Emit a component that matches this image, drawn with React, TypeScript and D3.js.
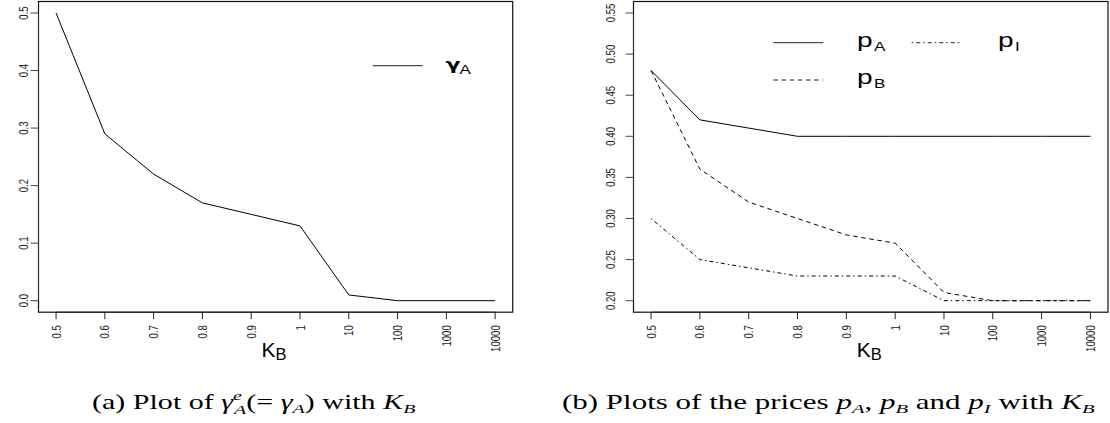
import React, { useLayoutEffect, useRef, useState } from "react";
import * as d3 from "d3";

const categories = ["0.5", "0.6", "0.7", "0.8", "0.9", "1", "10", "100", "1000", "10000"];
const gammaA = [0.5, 0.29, 0.22, 0.17, 0.15, 0.13, 0.01, 0, 0, 0];
const pA = [0.48, 0.42, 0.41, 0.4, 0.4, 0.4, 0.4, 0.4, 0.4, 0.4];
const pB = [0.48, 0.36, 0.32, 0.3, 0.28, 0.27, 0.21, 0.2, 0.2, 0.2];
const pI = [0.3, 0.25, 0.24, 0.23, 0.23, 0.23, 0.2, 0.2, 0.2, 0.2];
const leftYTicks = [0, 0.1, 0.2, 0.3, 0.4, 0.5];
const rightYTicks = [0.2, 0.25, 0.3, 0.35, 0.4, 0.45, 0.5, 0.55];

const SY = 0.74;
const SANS = "'Liberation Sans', Arial, Helvetica, sans-serif";
const SERIF = "'Liberation Serif', 'Times New Roman', serif";
const DASH = "4.5,3.7";
const DOTDASH = "1.5,3,4,3";

type Series = { values: number[]; dash?: string };

function Panel(props: {
  left: number;
  right: number;
  top: number;
  bottom: number;
  yDomain: [number, number];
  yTicks: number[];
  yFmt: (v: number) => string;
  yLabelX: number;
  series: Series[];
}) {
  const { left, right, top, bottom, yDomain, yTicks, yFmt, yLabelX, series } = props;
  const n = categories.length;
  const padX = (n - 1) * 0.04;
  const x = d3.scaleLinear().domain([-padX, n - 1 + padX]).range([left, right]);
  const padY = (yDomain[1] - yDomain[0]) * 0.04;
  const y = d3.scaleLinear().domain([yDomain[0] - padY, yDomain[1] + padY]).range([bottom, top]);
  const line = d3
    .line<number>()
    .x((_, i) => x(i))
    .y((d) => y(d));
  const tickLen = 8;
  return (
    <g>
      {series.map((s, k) => (
        <path
          key={k}
          d={line(s.values) || ""}
          fill="none"
          stroke="#000"
          strokeWidth={1}
          strokeDasharray={s.dash}
        />
      ))}
      <rect x={left} y={top} width={right - left} height={bottom - top} fill="none" stroke="#111" strokeWidth={1.2} />
      <line x1={left} x2={left} y1={y(yTicks[0])} y2={y(yTicks[yTicks.length - 1])} stroke="#333" />
      {yTicks.map((t) => (
        <g key={t}>
          <line x1={left - tickLen} x2={left} y1={y(t)} y2={y(t)} stroke="#444" strokeWidth={1} />
          <g transform={`translate(${yLabelX},${y(t)}) scale(1,${SY}) rotate(-90)`}>
            <text x={0} y={0} textAnchor="middle" fontFamily={SANS} fontSize={13} fill="#222">
              {yFmt(t)}
            </text>
          </g>
        </g>
      ))}
      <line x1={x(0)} x2={x(n - 1)} y1={bottom} y2={bottom} stroke="#222" />
      {categories.map((c, i) => (
        <g key={c}>
          <line x1={x(i)} x2={x(i)} y1={bottom} y2={bottom + 7} stroke="#222" strokeWidth={1} />
          <g transform={`translate(${x(i) + 4.6},${bottom + 13}) scale(1,${SY}) rotate(-90)`}>
            <text x={0} y={0} textAnchor="end" fontFamily={SANS} fontSize={13} fill="#222">
              {c}
            </text>
          </g>
        </g>
      ))}
      <g transform={`translate(${(left + right) / 2 - 14},356.5)`}>
        <text x={0} y={0} fontFamily={SANS} fontSize={21} fill="#000">
          K
        </text>
        <text x={14} y={3.5} fontFamily={SANS} fontSize={16.5} fill="#000">
          B
        </text>
      </g>
    </g>
  );
}

function LegendEntry(props: {
  x1: number;
  x2: number;
  ly: number;
  tx: number;
  base: string;
  sub: string;
  dash?: string;
  baseFont?: string;
  baseSize?: number;
  baseDy?: number;
  baseWeight?: number;
  subDx?: number;
}) {
  const { x1, x2, ly, tx, base, sub, dash } = props;
  const baseSize = props.baseSize ?? 28;
  const baseDy = props.baseDy ?? 4;
  const subDx = props.subDx ?? 17;
  return (
    <g>
      <line x1={x1} x2={x2} y1={ly} y2={ly} stroke="#222" strokeWidth={1} strokeDasharray={dash} />
      <g transform={`translate(${tx},${ly + baseDy}) scale(1,${SY})`}>
        <text x={0} y={0} fontFamily={props.baseFont ?? SANS} fontSize={baseSize} fontWeight={props.baseWeight ?? 400} fill="#000">
          {base}
        </text>
      </g>
      <g transform={`translate(${tx + subDx},${ly + 8.3}) scale(1,${SY})`}>
        <text x={0} y={0} fontFamily={SANS} fontSize={17} fill="#000">
          {sub}
        </text>
      </g>
    </g>
  );
}

const CAP_FONT = 30;
const CAP_SY = 0.67;

function FitText(props: { x0: number; x1: number; baseline: number; children: React.ReactNode }) {
  const ref = useRef<SVGTextElement>(null);
  const [sx, setSx] = useState(1);
  useLayoutEffect(() => {
    if (ref.current) {
      const w = ref.current.getBBox().width;
      if (w > 0) setSx((props.x1 - props.x0) / w);
    }
  }, []);
  return (
    <g transform={`translate(${props.x0},${props.baseline}) scale(${sx},${CAP_SY})`}>
      <text ref={ref} x={0} y={0} fontFamily={SERIF} fontSize={CAP_FONT} fill="#000">
        {props.children}
      </text>
    </g>
  );
}

export default function App() {
  const SUB = 20;
  const D = 6;
  return (
    <svg
      width={1110}
      height={423}
      viewBox="0 0 1110 423"
      style={{ position: "absolute", left: 0, top: 0, background: "#fff" }}
    >
      <rect x={0} y={0} width={1110} height={423} fill="#fff" />
      <Panel
        left={38.5}
        right={512.7}
        top={1.5}
        bottom={312.2}
        yDomain={[0, 0.5]}
        yTicks={leftYTicks}
        yFmt={(v) => d3.format(".1f")(v)}
        yLabelX={28.3}
        series={[{ values: gammaA }]}
      />
      <Panel
        left={633.5}
        right={1108}
        top={1.5}
        bottom={312.2}
        yDomain={[0.2, 0.55]}
        yTicks={rightYTicks}
        yFmt={(v) => d3.format(".2f")(v)}
        yLabelX={615}
        series={[{ values: pA }, { values: pB, dash: DASH }, { values: pI, dash: DOTDASH }]}
      />
      <LegendEntry
        x1={372.7}
        x2={422.7}
        ly={65.7}
        tx={445.5}
        base="γ"
        sub="A"
        baseFont="'DejaVu Sans', sans-serif"
        baseSize={22}
        baseWeight={700}
        baseDy={4}
        subDx={14}
      />
      <LegendEntry x1={773.3} x2={823.3} ly={42.7} tx={857} base="p" sub="A" />
      <LegendEntry x1={773.3} x2={823.3} ly={80} tx={857} base="p" sub="B" dash={DASH} />
      <LegendEntry x1={911.7} x2={960} ly={42.7} tx={998} base="p" sub="I" dash={DOTDASH} />
      <FitText x0={92} x1={416} baseline={409}>
        (a) Plot of <tspan fontStyle="italic">γ</tspan>
        <tspan fontStyle="italic" fontSize={SUB} dy={-14}>e</tspan>
        <tspan fontStyle="italic" fontSize={SUB} dx={-8} dy={14 + 7}>A</tspan>
        <tspan dy={-7}>(= </tspan>
        <tspan fontStyle="italic">γ</tspan>
        <tspan fontStyle="italic" fontSize={SUB} dy={D}>A</tspan>
        <tspan dy={-D}>) with </tspan>
        <tspan fontStyle="italic">K</tspan>
        <tspan fontStyle="italic" fontSize={SUB} dy={D}>B</tspan>
      </FitText>
      <FitText x0={562} x1={1095} baseline={409}>
        (b) Plots of the prices <tspan fontStyle="italic">p</tspan>
        <tspan fontStyle="italic" fontSize={SUB} dy={D}>A</tspan>
        <tspan dy={-D}>, </tspan>
        <tspan fontStyle="italic">p</tspan>
        <tspan fontStyle="italic" fontSize={SUB} dy={D}>B</tspan>
        <tspan dy={-D}> and </tspan>
        <tspan fontStyle="italic">p</tspan>
        <tspan fontStyle="italic" fontSize={SUB} dy={D}>I</tspan>
        <tspan dy={-D}> with </tspan>
        <tspan fontStyle="italic">K</tspan>
        <tspan fontStyle="italic" fontSize={SUB} dy={D}>B</tspan>
      </FitText>
    </svg>
  );
}
